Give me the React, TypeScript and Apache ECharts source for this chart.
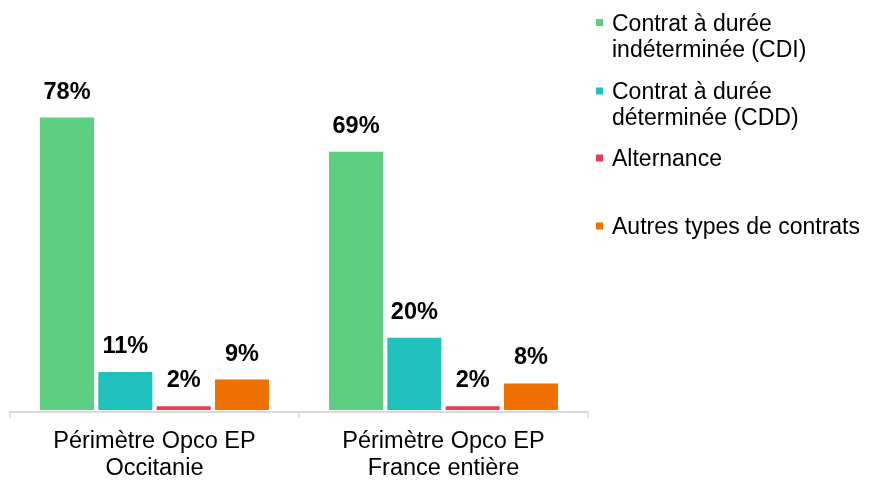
import React, { useEffect, useRef } from "react";
import * as echarts from "echarts";

const categories = ["Périmètre Opco EP\nOccitanie", "Périmètre Opco EP\nFrance entière"];
const seriesNames = [
  "Contrat à durée\nindéterminée (CDI)",
  "Contrat à durée\ndéterminée (CDD)",
  "Alternance",
  "Autres types de contrats",
];
const cdi = [78, 69];
const cdd = [11, 20];
const alternance = [2, 2];
const autres = [9, 8];
const colors = ["#5ecf80", "#20c1bc", "#ea3c55", "#ee7100"];

const FONT = "Liberation Sans, Arial, sans-serif";
const FS = 23.5;
const LFS = 23;
const LH = 26;

export default function App() {
  const ref = useRef<HTMLDivElement>(null);
  useEffect(() => {
    if (!ref.current) return;
    const chart = echarts.init(ref.current, undefined, { renderer: "svg" });
    const values = [cdi, cdd, alternance, autres];
    const legendTops = [-16.5, 52, 145, 213];
    const legends = seriesNames.map((name, i) => {
      const twoLines = name.includes("\n");
      return {
        data: [name],
        left: 596,
        top: legendTops[i],
        padding: 0,
        itemWidth: 7,
        itemHeight: 7,
        icon: "rect",
        selectedMode: false,
        formatter: (n: string) => (twoLines ? " \n" + n : n),
        textStyle: {
          fontFamily: FONT,
          fontSize: LFS,
          lineHeight: LH,
          color: "#000",
          padding: [0, 0, 0, 4],
        },
      };
    });
    chart.setOption({
      animation: false,
      textStyle: { fontFamily: FONT },
      legend: legends,
      grid: { left: 10, right: 283, top: 34, bottom: 70, containLabel: false },
      xAxis: {
        type: "category",
        data: categories,
        offset: 2,
        axisLine: { show: true, lineStyle: { color: "#d9d9d9", width: 2 } },
        axisTick: { show: true, length: 6, lineStyle: { color: "#d9d9d9", width: 1.5 } },
        axisLabel: {
          color: "#000",
          fontFamily: FONT,
          fontSize: FS,
          lineHeight: 27,
          margin: 14,
          interval: 0,
        },
      },
      yAxis: {
        type: "value",
        min: 1,
        max: 100,
        show: false,
        splitLine: { show: false },
      },
      series: seriesNames.map((name, i) => ({
        name,
        type: "bar",
        data: values[i],
        barWidth: 54,
        barGap: "8%",
        itemStyle: { color: colors[i] },
        label: {
          show: true,
          position: "top",
          distance: 14,
          formatter: "{c}%",
          color: "#000",
          fontFamily: FONT,
          fontSize: FS,
          fontWeight: "bold",
          lineHeight: LH,
        },
      })),
    });
    return () => chart.dispose();
  }, []);
  return (
    <div
      ref={ref}
      style={{ position: "fixed", left: 0, top: 0, width: 871, height: 480 }}
    />
  );
}
